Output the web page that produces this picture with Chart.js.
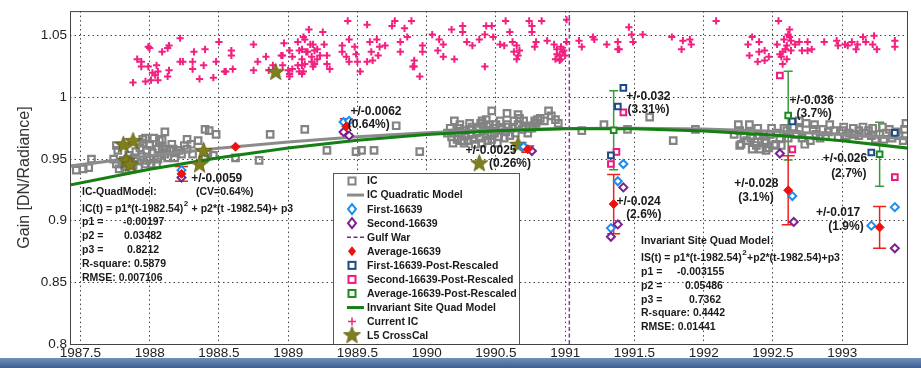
<!DOCTYPE html>
<html>
<head>
<meta charset="utf-8">
<script src="https://cdn.jsdelivr.net/npm/chart.js@4.4.1/dist/chart.umd.min.js"></script>
<style>
  html, body { margin: 0; padding: 0; background: #fff; }
  #wrap { position: relative; width: 921px; height: 368px; overflow: hidden; }
  #band { position: absolute; left: 0; top: 358px; width: 921px; height: 10px;
          background: linear-gradient(#7190bd, #3d5d90); }
</style>
</head>
<body>
<div id="wrap">
  <canvas id="gainChart" width="921" height="368"></canvas>
  <div id="band"></div>
</div>
<script>
// ---- data ----
const xTicks = [1987.5, 1988, 1988.5, 1989, 1989.5, 1990, 1990.5, 1991, 1991.5, 1992, 1992.5, 1993];
const yTicks = [0.8, 0.85, 0.9, 0.95, 1, 1.05];

// IC (gray squares)
const icPoints = [
  [1987.47,0.941],[1987.52,0.942],[1987.56,0.943],[1987.58,0.950],[1987.76,0.961],[1987.77,0.957],
  [1987.74,0.950],[1987.76,0.946],[1987.80,0.946],[1987.82,0.944],[1987.84,0.946],[1987.89,0.951],
  [1987.93,0.959],[1987.95,0.963],[1987.97,0.967],[1988.00,0.962],[1988.03,0.967],[1987.98,0.957],
  [1987.98,0.949],[1988.01,0.946],[1988.06,0.950],[1988.11,0.954],[1988.15,0.957],[1988.12,0.958],
  [1988.17,0.958],[1988.19,0.955],[1988.23,0.954],[1988.27,0.958],[1988.30,0.962],[1988.27,0.966],
  [1988.07,0.965],[1988.11,0.972],[1988.25,0.961],[1988.35,0.965],[1988.40,0.974],[1988.43,0.973],
  [1988.48,0.970],[1988.42,0.955],[1988.40,0.951],[1988.46,0.953],[1988.31,0.954],[1988.62,0.951],
  [1988.79,0.949],[1988.87,0.970],[1989.12,0.974],[1988.00,0.950],[1988.06,0.958],[1987.91,0.949],
  [1987.84,0.950],[1987.97,0.946],[1987.81,0.949],[1987.78,0.942],[1987.83,0.941],[1987.87,0.942],
  [1987.95,0.966],[1988.09,0.966],[1988.00,0.961],
  [1987.85,0.953],[1987.90,0.956],[1987.94,0.952],[1988.02,0.955],[1988.08,0.953],[1988.13,0.951],
  [1988.18,0.951],[1988.21,0.957],[1988.05,0.946],[1987.88,0.945],[1987.92,0.943],[1988.09,0.960],
  [1988.16,0.962],
  [1989.28,0.957],[1989.49,0.956],[1989.53,0.957],[1989.62,0.957],[1989.78,0.977],[1989.95,0.956],
  [1990.19,0.963],[1990.25,0.965],[1990.47,0.989],[1990.58,0.987],[1990.66,0.986],[1990.43,0.982],
  [1990.50,0.978],[1990.58,0.978],[1990.63,0.981],[1990.67,0.983],[1990.60,0.969],[1990.77,0.977],
  [1990.80,0.982],[1990.88,0.989],[1990.90,0.985],[1990.82,0.983],[1990.78,0.981],[1990.95,0.979],
  [1990.74,0.975],[1990.69,0.974],[1990.79,0.979],[1990.76,0.975],
  [1990.17,0.975],[1990.20,0.971],[1990.24,0.978],[1990.27,0.973],[1990.31,0.979],[1990.32,0.970],
  [1990.37,0.975],[1990.38,0.967],[1990.42,0.973],[1990.44,0.965],[1990.45,0.978],[1990.49,0.971],
  [1990.51,0.963],[1990.54,0.974],[1990.56,0.967],[1990.20,0.981],[1990.25,0.971],[1990.30,0.965],
  [1990.35,0.962],[1990.40,0.981],[1990.46,0.969],[1990.53,0.981],[1990.22,0.966],[1990.15,0.971],
  [1990.62,0.975],[1990.66,0.978],[1990.70,0.981],[1990.85,0.981],[1990.93,0.982],
  [1990.18,0.968],[1990.23,0.975],[1990.28,0.969],[1990.33,0.976],[1990.36,0.971],[1990.41,0.977],
  [1990.44,0.970],[1990.48,0.975],[1990.52,0.968],[1990.57,0.972],[1990.27,0.963],[1990.34,0.966],
  [1990.40,0.963],[1990.47,0.966],[1990.31,0.974],[1990.39,0.979],[1990.59,0.976],[1990.64,0.971],
  [1990.71,0.977],[1990.73,0.971],
  [1991.12,0.973],[1991.28,0.978],[1991.45,0.974],[1991.61,0.984],[1991.78,0.965],[1991.94,0.974],
  [1992.25,0.978],[1992.33,0.978],[1992.26,0.973],[1992.27,0.962],[1992.34,0.967],[1992.38,0.961],
  [1992.41,0.958],[1992.49,0.975],[1992.45,0.965],[1992.53,0.971],[1992.51,0.961],[1992.56,0.961],
  [1992.73,0.962],[1992.74,0.979],[1992.67,0.970],[1992.79,0.974],[1992.86,0.974],[1992.94,0.973],
  [1993.00,0.973],[1993.08,0.975],[1993.12,0.973],[1993.17,0.971],[1993.22,0.975],[1993.27,0.970],
  [1993.32,0.971],[1993.36,0.967],[1993.41,0.969],[1993.45,0.974],[1993.46,0.979],[1993.44,0.965],
  [1993.24,0.966],[1993.12,0.969],[1993.03,0.969],[1992.88,0.969],[1992.81,0.970],[1992.69,0.974],
  [1992.60,0.973],[1992.61,0.967],[1992.40,0.969],[1992.35,0.958],[1992.31,0.965],[1992.45,0.957],
  [1992.26,0.961],[1992.44,0.963],[1992.52,0.962],[1992.69,0.981],[1992.91,0.978],[1993.05,0.971],
  [1993.19,0.973],[1993.34,0.974],[1992.80,0.978],[1992.65,0.976],[1992.39,0.975],[1992.48,0.970],
  [1992.22,0.970],
  [1992.29,0.969],[1992.37,0.964],[1992.43,0.970],[1992.47,0.959],[1992.55,0.967],[1992.58,0.975],
  [1992.71,0.967],[1992.77,0.965],[1992.84,0.967],[1992.90,0.972],[1992.97,0.968],[1993.01,0.976],
  [1993.09,0.970],[1993.15,0.976],[1993.21,0.969],[1993.29,0.976],[1993.39,0.972],[1993.30,0.966]
];

// Current IC (pink plus)
const currentIcPoints = [
  [1988.22,1.048],[1988.00,1.040],[1988.13,1.040],[1988.09,1.037],[1988.40,1.039],[1988.32,1.037],
  [1988.50,1.045],[1988.59,1.038],[1988.59,1.034],[1988.75,1.043],[1988.97,1.044],[1987.91,1.031],
  [1987.94,1.029],[1987.94,1.025],[1987.99,1.025],[1988.05,1.026],[1988.06,1.021],[1988.04,1.018],
  [1988.14,1.022],[1988.13,1.017],[1988.06,1.014],[1988.01,1.014],[1987.97,1.013],[1987.88,1.012],
  [1988.22,1.029],[1988.24,1.029],[1988.31,1.029],[1988.31,1.023],[1988.39,1.026],[1988.36,1.015],
  [1988.46,1.016],[1988.48,1.029],[1988.55,1.021],[1988.60,1.023],[1988.75,1.022],[1988.78,1.029],
  [1988.84,1.033],[1988.86,1.022],[1988.96,1.034],[1989.00,1.022],[1989.01,1.017],[1987.99,1.041],
  [1988.14,1.042],[1988.02,1.020],[1988.54,1.021],
  [1989.11,1.049],[1989.15,1.055],[1989.07,1.045],[1989.18,1.043],[1989.01,1.038],[1989.08,1.038],
  [1989.14,1.037],[1989.21,1.039],[1989.03,1.033],[1989.10,1.031],[1989.17,1.033],[1989.19,1.027],
  [1989.07,1.026],[1989.12,1.027],[1989.03,1.023],[1989.01,1.019],[1989.08,1.021],[1989.10,1.019],
  [1988.96,1.026],[1988.95,1.034],[1988.89,1.026],[1989.12,1.047],[1989.16,1.043],[1989.10,1.039],
  [1989.13,1.037],[1989.19,1.038],[1989.25,1.053],[1989.26,1.043],[1989.23,1.034],[1989.28,1.034],
  [1989.17,1.029],[1989.10,1.026],[1989.11,1.021],[1989.18,1.025],[1989.30,1.023],[1989.28,1.027],
  [1989.21,1.031],
  [1989.39,1.042],[1989.44,1.047],[1989.39,1.037],[1989.42,1.033],[1989.48,1.041],[1989.44,1.029],
  [1989.49,1.035],[1989.50,1.029],[1989.52,1.021],[1989.57,1.059],[1989.59,1.045],[1989.60,1.037],
  [1989.64,1.047],[1989.66,1.041],[1989.65,1.034],[1989.57,1.029],[1989.61,1.030],[1989.70,1.042],
  [1989.75,1.058],[1989.81,1.045],[1989.86,1.049],[1989.81,1.037],[1989.90,1.025],[1989.95,1.017],
  [1989.91,1.030],[1989.97,1.042],[1989.97,1.037],[1989.43,1.062],[1989.77,1.062],[1989.89,1.062],
  [1989.84,1.056],[1989.91,1.025],
  [1990.04,1.051],[1990.09,1.047],[1990.12,1.043],[1990.08,1.038],[1990.12,1.033],[1990.20,1.031],
  [1990.26,1.058],[1990.26,1.053],[1990.29,1.045],[1990.33,1.042],[1990.38,1.047],[1990.42,1.051],
  [1990.42,1.025],[1990.47,1.058],[1990.48,1.049],[1990.53,1.043],[1990.56,1.042],[1990.60,1.053],
  [1990.62,1.045],[1990.65,1.042],[1990.63,1.037],[1990.66,1.034],[1990.65,1.031],[1990.67,1.038],
  [1990.76,1.058],[1990.76,1.053],[1990.79,1.045],[1990.78,1.041],[1990.18,1.055],[1990.43,1.058],
  [1990.57,1.062],[1990.74,1.062],[1990.83,1.062],
  [1990.87,1.046],[1990.92,1.043],[1990.97,1.041],[1990.99,1.038],[1990.94,1.035],[1990.97,1.031],
  [1991.01,1.045],[1991.01,1.063],[1990.94,1.039],[1990.96,1.034],[1990.98,1.037],[1991.00,1.034],
  [1990.96,1.030],[1990.93,1.031],
  [1991.10,1.046],[1991.12,1.041],[1991.21,1.047],[1991.20,1.049],[1991.30,1.043],[1991.38,1.045],
  [1991.38,1.039],[1991.39,1.039],[1991.46,1.057],[1991.48,1.051],[1991.49,1.045],[1991.56,1.051],
  [1991.77,1.049],[1991.85,1.046],[1991.90,1.047],[1991.91,1.043],[1991.84,1.039],[1992.09,1.062],
  [1992.54,1.062],[1992.62,1.055],[1992.35,1.049],[1992.32,1.043],[1992.40,1.045],[1992.44,1.038],
  [1992.40,1.037],[1992.33,1.034],[1992.44,1.030],[1992.39,1.029],[1992.47,1.033],[1992.53,1.043],
  [1992.58,1.047],[1992.62,1.049],[1992.60,1.042],[1992.57,1.037],[1992.63,1.038],[1992.56,1.033],
  [1992.60,1.031],[1992.57,1.027],[1992.66,1.043],[1992.69,1.045],[1992.71,1.038],[1992.75,1.038],
  [1992.78,1.039],[1992.75,1.045],[1992.87,1.045],[1992.96,1.046],[1992.97,1.042],[1993.02,1.043],
  [1993.07,1.045],[1993.11,1.043],[1993.15,1.049],[1993.17,1.045],[1993.23,1.050],[1993.25,1.039],
  [1993.22,1.043],[1993.38,1.046],[1993.38,1.041],[1993.10,1.039],[1993.04,1.042],[1992.61,1.051],
  [1992.63,1.046],[1992.59,1.039],[1992.55,1.035]
];

// model curves
const modelYears = [1987.42, 1988, 1988.5, 1989, 1989.5, 1990, 1990.5, 1991, 1991.5, 1992, 1992.5, 1993, 1993.48];
const icQuadGain = [0.9442, 0.9526, 0.9588, 0.9639, 0.9681, 0.9713, 0.9736, 0.9748, 0.9750, 0.9743, 0.9726, 0.9699, 0.9663];
const isQuadGain = [0.9288, 0.9417, 0.9511, 0.9589, 0.9652, 0.9699, 0.9730, 0.9745, 0.9745, 0.9728, 0.9696, 0.9649, 0.9588];

const gulfWarYear = 1991.03;

// L5 cross-calibration stars
const l5Points = [
  [1987.81,0.962],[1987.88,0.965],[1987.83,0.949],[1987.86,0.946],[1988.39,0.957],
  [1988.36,0.946],[1988.91,1.021],[1990.38,0.947],[1990.66,0.962]
];

// 16639 site measurements
const first16639 = [
  [1988.23,0.941],[1989.40,0.980],[1989.44,0.981],[1990.70,0.960],[1991.33,0.894],
  [1991.38,0.932],[1991.42,0.946],[1992.64,0.920],[1993.21,0.896],[1993.38,0.911]
];
const second16639 = [
  [1988.23,0.935],[1989.40,0.972],[1989.44,0.969],[1990.76,0.9565],[1991.33,0.887],
  [1991.38,0.897],[1991.42,0.927],[1992.55,0.9545],[1992.65,0.899],[1993.38,0.8776]
];
const avgYears = [1988.23, 1988.62, 1989.42, 1990.73, 1991.35, 1992.61, 1993.27];
const avgGain  = [0.938, 0.960, 0.9765, 0.958, 0.9135, 0.9247, 0.8946];
const avgErr   = [0.0059, 0, 0.0062, 0.0025, 0.024, 0.028, 0.017];

const firstPost = [[1991.33,0.953],[1991.38,0.9926],[1991.42,1.0077],[1992.64,0.9806],[1993.21,0.9553],[1993.38,0.9712]];
const secondPost = [[1991.33,0.946],[1991.37,0.9558],[1991.42,0.9878],[1992.55,1.0178],[1992.64,0.9579],[1993.38,0.9353]];
const postYears = [1991.35, 1992.61, 1993.27];
const postGain  = [0.9734, 0.9853, 0.9539];
const postErr   = [0.032, 0.036, 0.026];

// ---- helpers ----
const FONT = '"Liberation Sans", Arial, sans-serif';
const toXY = arr => arr.map(p => ({x: p[0], y: p[1]}));
const zipXY = (xs, ys) => xs.map((x, i) => ({x: x, y: ys[i]}));

function starImage(size, fill, edge) {
    const c = document.createElement('canvas');
    c.width = size; c.height = size;
    const g = c.getContext('2d');
    const r = size / 2 - 0.5, ri = r * 0.42, cx = size / 2, cy = size / 2 + 0.8;
    g.beginPath();
    for (let i = 0; i < 10; i++) {
        const rr = i % 2 ? ri : r;
        const a = -Math.PI / 2 + i * Math.PI / 5;
        g.lineTo(cx + rr * Math.cos(a), cy + rr * Math.sin(a));
    }
    g.closePath();
    g.fillStyle = fill; g.fill();
    g.strokeStyle = edge; g.lineWidth = 0.8; g.stroke();
    return c;
}
const starPic = starImage(19, '#7f7f1d', '#5a5a10');

const C = {
    ic: '#838383', pink: '#f2207f', blue: '#1c8cf0', purple: '#7b2190',
    red: '#f01010', navy: '#1c4a86', magenta: '#f0187c', green: '#1f8a1f',
    line: '#148014', olive: '#7f7f1d'
};

// ---- error bars (drawn below markers) ----
function errorBars(ctx, sx, sy, years, gains, errs, color, cap) {
    ctx.save();
    ctx.strokeStyle = color;
    ctx.lineWidth = 1.5;
    years.forEach((t, i) => {
        if (!errs[i]) return;
        const px = sx.getPixelForValue(t);
        const top = sy.getPixelForValue(gains[i] + errs[i]);
        const bot = sy.getPixelForValue(gains[i] - errs[i]);
        ctx.beginPath();
        ctx.moveTo(px, top); ctx.lineTo(px, bot);
        ctx.moveTo(px - cap, top); ctx.lineTo(px + cap, top);
        ctx.moveTo(px - cap, bot); ctx.lineTo(px + cap, bot);
        ctx.stroke();
    });
    ctx.restore();
}

const errorBarPlugin = {
    id: 'errorBarPlugin',
    beforeDatasetsDraw(chart) {
        const {ctx, scales: {x, y}} = chart;
        errorBars(ctx, x, y, postYears, postGain, postErr, '#3c9a3c', 4.5);
        errorBars(ctx, x, y, avgYears, avgGain, avgErr, '#ee2020', 6.5);
    }
};

// ---- legend marker drawing ----
function drawMark(ctx, kind, color, x, y) {
    ctx.save();
    ctx.strokeStyle = color;
    ctx.fillStyle = color;
    if (kind === 'square') {
        ctx.lineWidth = 2;
        ctx.strokeRect(x - 3.5, y - 3.5, 7, 7);
    } else if (kind === 'diamond' || kind === 'fdiamond') {
        ctx.lineWidth = 2;
        ctx.beginPath();
        ctx.moveTo(x, y - 5); ctx.lineTo(x + 4, y); ctx.lineTo(x, y + 5); ctx.lineTo(x - 4, y);
        ctx.closePath();
        if (kind === 'fdiamond') ctx.fill(); else { ctx.fillStyle = '#fff'; ctx.fill(); ctx.stroke(); }
    } else if (kind === 'line' || kind === 'dash') {
        ctx.lineWidth = kind === 'line' ? 3 : 1.5;
        if (kind === 'dash') ctx.setLineDash([4, 2.5]);
        ctx.beginPath(); ctx.moveTo(x - 5, y); ctx.lineTo(x + 12, y); ctx.stroke();
    } else if (kind === 'plus') {
        ctx.lineWidth = 1.5;
        ctx.beginPath();
        ctx.moveTo(x - 4, y); ctx.lineTo(x + 4, y);
        ctx.moveTo(x, y - 4); ctx.lineTo(x, y + 4);
        ctx.stroke();
    } else if (kind === 'star') {
        ctx.drawImage(starPic, x - 9.5, y - 10.5);
    }
    ctx.restore();
}

// ---- texts, legend box, frame ----
function drawFormula(ctx, x, y, pre, post) {
    ctx.fillText(pre, x, y);
    const w = ctx.measureText(pre).width;
    const keep = ctx.font;
    ctx.font = 'bold 8px ' + FONT;
    ctx.fillText('2', x + w + 0.5, y - 5);
    const w2 = ctx.measureText('2').width;
    ctx.font = keep;
    ctx.fillText(post, x + w + w2 + 1, y);
}

const overlayPlugin = {
    id: 'overlayPlugin',
    afterDraw(chart) {
        const {ctx, chartArea: a, scales: {x, y}} = chart;
        ctx.save();

        // error annotations next to the averages
        const notes = [
            ['+/-0.0059', 1988.30, 0.9340], ['+/-0.0062', 1989.45, 0.9888], ['(0.64%)', 1989.43, 0.9776],
            ['+/-0.0025', 1990.28, 0.9568], ['(0.26%)', 1990.45, 0.9464],
            ['+/-0.032', 1991.44, 1.0008], ['(3.31%)', 1991.45, 0.9904],
            ['+/-0.024', 1991.37, 0.9158], ['(2.6%)', 1991.44, 0.9045],
            ['+/-0.036', 1992.62, 0.9976], ['(3.7%)', 1992.67, 0.9864],
            ['+/-0.028', 1992.22, 0.9300], ['(3.1%)', 1992.25, 0.9185],
            ['+/-0.026', 1992.86, 0.9504], ['(2.7%)', 1992.92, 0.9384],
            ['+/-0.017', 1992.81, 0.9068], ['(1.9%)', 1992.90, 0.8952]
        ];
        ctx.fillStyle = '#1a1a1a';
        ctx.textBaseline = 'middle';
        ctx.font = 'bold 12px ' + FONT;
        notes.forEach(n => ctx.fillText(n[0], x.getPixelForValue(n[1]), y.getPixelForValue(n[2])));

        // IC quad model block
        ctx.font = 'bold 10.5px ' + FONT;
        ctx.fillText('IC-QuadModel:', 82, 192);
        ctx.fillText('(CV=0.64%)', 196, 192);
        drawFormula(ctx, 82, 209, 'IC(t) = p1*(t-1982.54)', ' + p2*(t -1982.54)+ p3');
        ctx.fillText('p1 =', 82, 222); ctx.fillText('-0.00197', 123, 222);
        ctx.fillText('p2 =', 82, 236); ctx.fillText('0.03482', 124, 236);
        ctx.fillText('p3 =', 82, 250); ctx.fillText('0.8212', 127, 250);
        ctx.fillText('R-square: 0.5879', 82, 264);
        ctx.fillText('RMSE: 0.007106', 82, 278);

        // invariant site model block
        ctx.fillText('Invariant Site Quad Model:', 641, 241);
        drawFormula(ctx, 641, 258, 'IS(t) = p1*(t-1982.54)', '+p2*(t-1982.54)+p3');
        ctx.fillText('p1 =', 641, 272); ctx.fillText('-0.003155', 677, 272);
        ctx.fillText('p2 =', 641, 286); ctx.fillText('0.05486', 685, 286);
        ctx.fillText('p3 =', 641, 300); ctx.fillText('0.7362', 689, 300);
        ctx.fillText('R-square: 0.4442', 641, 313);
        ctx.fillText('RMSE: 0.01441', 641, 327);

        // legend box
        const lx = 333, ly = 173, lw = 186, lh = 171;
        ctx.fillStyle = '#fff';
        ctx.fillRect(lx, ly, lw, lh);
        ctx.strokeStyle = '#555';
        ctx.lineWidth = 1;
        ctx.strokeRect(lx + 0.5, ly + 0.5, lw, lh);
        ctx.font = 'bold 10.5px ' + FONT;
        chart.data.datasets.forEach((ds, i) => {
            const ry = 181 + i * 14.06;
            drawMark(ctx, ds.legendMark, ds.legendColor, 352, ry);
            ctx.fillStyle = '#1a1a1a';
            ctx.fillText(ds.label, 367, ry + 0.5);
        });

        // plot frame
        ctx.strokeStyle = '#444';
        ctx.lineWidth = 1;
        ctx.strokeRect(a.left + 0.5, a.top + 0.5, a.right - a.left - 1, a.bottom - a.top);
        ctx.restore();
    }
};

// ---- chart ----
const datasets = [
    { label: 'IC', data: toXY(icPoints), legendMark: 'square', legendColor: C.ic, order: 12,
      pointStyle: 'rect', pointRadius: 4.6, borderWidth: 2.2, borderColor: C.ic, backgroundColor: 'rgba(0,0,0,0)' },
    { label: 'IC Quadratic Model', type: 'line', data: zipXY(modelYears, icQuadGain), legendMark: 'line', legendColor: '#8b8b8b',
      order: 11, showLine: true, pointRadius: 0, borderColor: '#8b8b8b', borderWidth: 3 },
    { label: 'First-16639', data: toXY(first16639), legendMark: 'diamond', legendColor: C.blue, order: 3,
      pointStyle: 'rectRot', pointRadius: 4, borderWidth: 2, borderColor: C.blue, backgroundColor: '#fff' },
    { label: 'Second-16639', data: toXY(second16639), legendMark: 'diamond', legendColor: C.purple, order: 2,
      pointStyle: 'rectRot', pointRadius: 4, borderWidth: 2, borderColor: C.purple, backgroundColor: '#fff' },
    { label: 'Gulf War', type: 'line', data: [{x: gulfWarYear, y: 0.8}, {x: gulfWarYear, y: 1.07}], legendMark: 'dash',
      legendColor: C.purple, order: 8, showLine: true, pointRadius: 0, borderColor: '#8a3a99', borderWidth: 1.5, borderDash: [4, 2.5] },
    { label: 'Average-16639', data: zipXY(avgYears, avgGain), legendMark: 'fdiamond', legendColor: C.red, order: 1,
      pointStyle: 'rectRot', pointRadius: 4.5, borderWidth: 1, borderColor: C.red, backgroundColor: C.red },
    { label: 'First-16639-Post-Rescaled', data: toXY(firstPost), legendMark: 'square', legendColor: C.navy, order: 5,
      pointStyle: 'rect', pointRadius: 4, borderWidth: 2, borderColor: C.navy, backgroundColor: '#fff' },
    { label: 'Second-16639-Post-Rescaled', data: toXY(secondPost), legendMark: 'square', legendColor: C.magenta, order: 6,
      pointStyle: 'rect', pointRadius: 4, borderWidth: 2, borderColor: C.magenta, backgroundColor: '#fff' },
    { label: 'Average-16639-Post-Rescaled', data: zipXY(postYears, postGain), legendMark: 'square', legendColor: C.green, order: 4,
      pointStyle: 'rect', pointRadius: 4, borderWidth: 2, borderColor: C.green, backgroundColor: '#fff' },
    { label: 'Invariant Site Quad Model', type: 'line', data: zipXY(modelYears, isQuadGain), legendMark: 'line', legendColor: C.line,
      order: 10, showLine: true, pointRadius: 0, borderColor: C.line, borderWidth: 3 },
    { label: 'Current IC', data: toXY(currentIcPoints), legendMark: 'plus', legendColor: C.pink, order: 9,
      pointStyle: 'cross', pointRadius: 3.6, borderWidth: 2, borderColor: C.pink },
    { label: 'L5 CrossCal', data: toXY(l5Points), legendMark: 'star', legendColor: C.olive, order: 7,
      pointStyle: starPic, pointRadius: 9 }
];

new Chart(document.getElementById('gainChart'), {
    type: 'scatter',
    data: { datasets: datasets },
    plugins: [errorBarPlugin, overlayPlugin],
    options: {
        responsive: false,
        animation: false,
        layout: { padding: { top: 7, right: 13, left: 0, bottom: 0 } },
        plugins: { legend: { display: false }, tooltip: { enabled: false } },
        scales: {
            x: {
                type: 'linear', min: 1987.425, max: 1993.475,
                afterBuildTicks: s => { s.ticks = xTicks.map(v => ({value: v})); },
                afterFit: s => { s.height = 24; },
                ticks: { color: '#222', padding: 1, maxRotation: 0, autoSkip: false,
                         font: { family: FONT, size: 13.5 }, callback: v => String(v) },
                grid: { color: '#444', lineWidth: 1, drawTicks: false },
                border: { display: false, dash: [1.5, 3] }
            },
            y: {
                type: 'linear', min: 0.8, max: 1.07,
                afterBuildTicks: s => { s.ticks = yTicks.map(v => ({value: v})); },
                afterFit: s => { s.width = 70; },
                ticks: { color: '#222', padding: 3, autoSkip: false,
                         font: { family: FONT, size: 13.5 }, callback: v => String(v) },
                grid: { color: '#444', lineWidth: 1, drawTicks: false },
                border: { display: false, dash: [1.5, 3] },
                title: { display: true, text: 'Gain [DN/Radiance]', color: '#333',
                         font: { family: FONT, size: 16 }, padding: { top: 15, bottom: 0 } }
            }
        }
    }
});
</script>
</body>
</html>
